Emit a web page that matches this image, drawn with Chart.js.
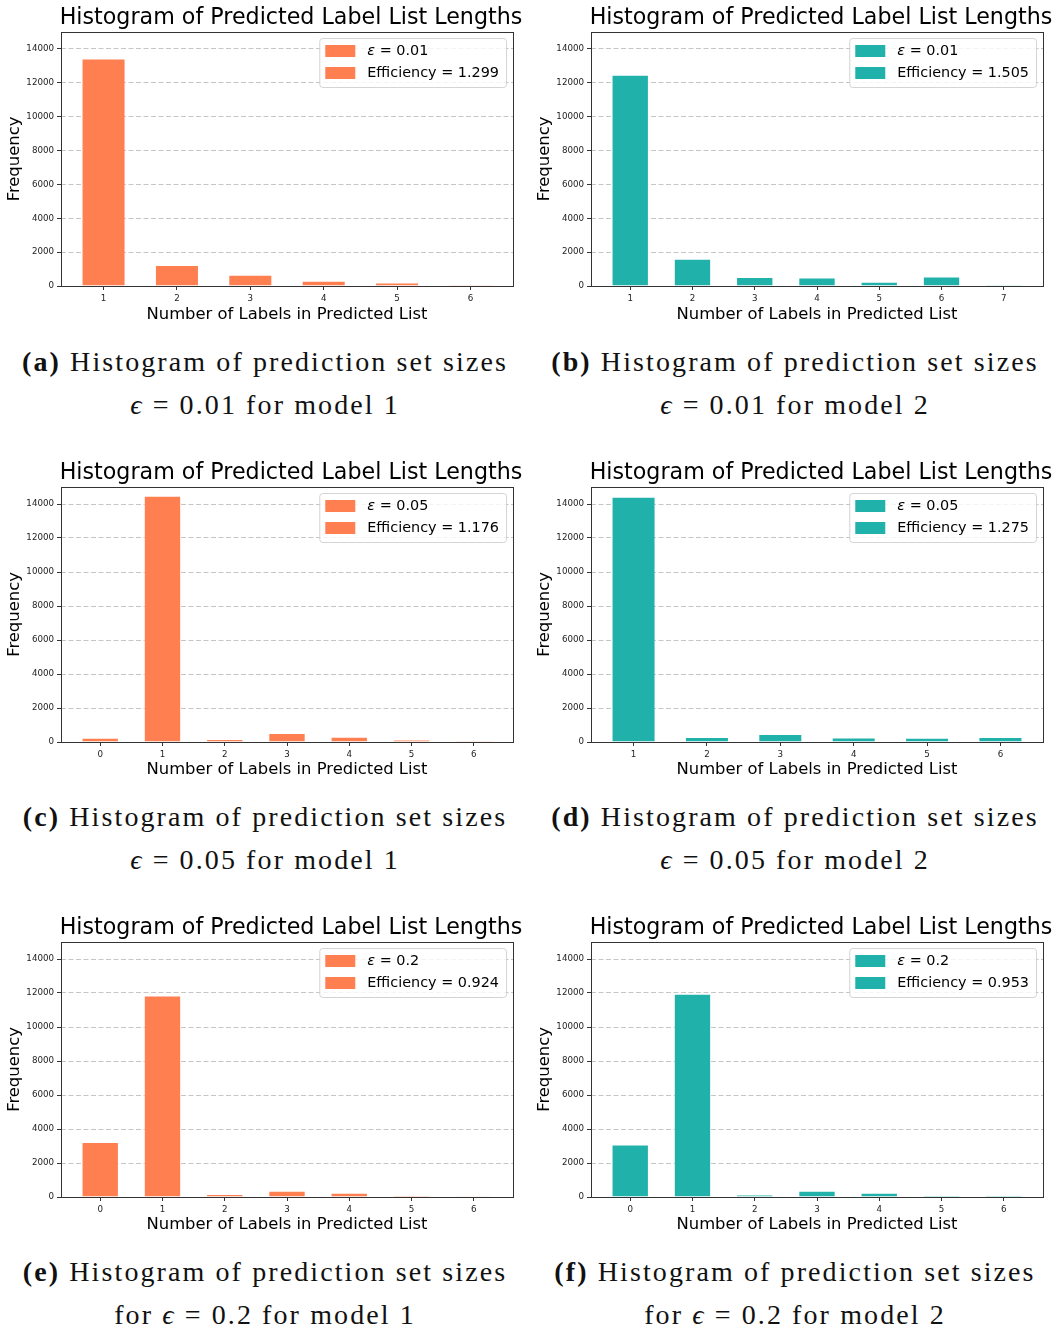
<!DOCTYPE html>
<html>
<head>
<meta charset="utf-8">
<script src="https://cdn.jsdelivr.net/npm/chart.js@4.4.1/dist/chart.umd.min.js"></script>
<style>
  html, body { margin: 0; padding: 0; background: #fff; }
  body { position: relative; width: 1059px; height: 1331px; overflow: hidden; }
  .panel { position: absolute; width: 530px; height: 455px; }
  .panel canvas { position: absolute; left: 0; top: 0; }
  .cap {
    position: absolute; left: 0; top: 340px; width: 530px;
    text-align: center; font-family: "Liberation Serif", "DejaVu Serif", serif;
    font-size: 28px; line-height: 43px; color: #111; letter-spacing: 2.1px;
    white-space: nowrap;
  }
  .cap b { font-weight: bold; }
  .cap i { font-style: italic; }
</style>
</head>
<body>
<div id="root"></div>
<script>
// Prediction-set sizes and their frequencies, one pair of arrays per panel
const sizesA  = [1, 2, 3, 4, 5, 6];
const countsA = [13430, 1240, 665, 310, 210, 70];

const sizesB  = [1, 2, 3, 4, 5, 6, 7];
const countsB = [12480, 1605, 530, 505, 250, 565, 4];

const sizesC  = [0, 1, 2, 3, 4, 5, 6];
const countsC = [255, 14490, 175, 525, 310, 150, 60];

const sizesD  = [1, 2, 3, 4, 5, 6];
const countsD = [14430, 290, 470, 270, 250, 290];

const sizesE  = [0, 1, 2, 3, 4, 5, 6];
const countsE = [3240, 11850, 175, 370, 250, 90, 10];

const sizesF  = [0, 1, 2, 3, 4, 5, 6];
const countsF = [3085, 11950, 135, 370, 250, 80, 80];

// Legend values
const epsilons     = ['0.01', '0.01', '0.05', '0.05', '0.2', '0.2'];
const efficiencies = ['1.299', '1.505', '1.176', '1.275', '0.924', '0.953'];

// Axis ticks shared by all panels
const yTicks = [0, 2000, 4000, 6000, 8000, 10000, 12000, 14000];
const yMax = 15000;

// Caption text
const captionTags  = ['(a)', '(b)', '(c)', '(d)', '(e)', '(f)'];
const captionPre   = ['', '', '', '', 'for ', 'for '];
const captionModel = ['1', '2', '1', '2', '1', '2'];

const CORAL = '#FF7F50';
const TEAL  = '#20B2AA';

const panels = [
  { sizes: sizesA, counts: countsA, color: CORAL, col: 0, row: 0 },
  { sizes: sizesB, counts: countsB, color: TEAL,  col: 1, row: 0 },
  { sizes: sizesC, counts: countsC, color: CORAL, col: 0, row: 1 },
  { sizes: sizesD, counts: countsD, color: TEAL,  col: 1, row: 1 },
  { sizes: sizesE, counts: countsE, color: CORAL, col: 0, row: 2 },
  { sizes: sizesF, counts: countsF, color: TEAL,  col: 1, row: 2 },
];

const SANS = '"DejaVu Sans", sans-serif';

// Axes frame, title and in-plot legend
const decor = {
  id: 'decor',
  afterDraw(chart, args, opts) {
    const { ctx, chartArea: a } = chart;
    ctx.save();
    // frame on all four sides
    ctx.strokeStyle = '#333';
    ctx.lineWidth = 1;
    ctx.setLineDash([]);
    ctx.strokeRect(Math.floor(a.left) + 0.5, Math.floor(a.top) + 0.5,
                   Math.round(a.right - a.left), Math.round(a.bottom - a.top));

    // title
    ctx.fillStyle = '#000';
    ctx.font = '22.2px ' + SANS;
    ctx.textAlign = 'center';
    ctx.textBaseline = 'middle';
    ctx.fillText('Histogram of Predicted Label List Lengths', (a.left + a.right) / 2 + 4, 18);

    // legend
    const fs = 14.4;
    const regular = fs + 'px ' + SANS;
    const italic = 'italic ' + fs + 'px ' + SANS;
    const line1Rest = ' = ' + opts.eps;
    const line2 = 'Efficiency = ' + opts.eff;
    ctx.font = italic;
    const wEps = ctx.measureText('ε').width;
    ctx.font = regular;
    const w1 = wEps + ctx.measureText(line1Rest).width;
    const w2 = ctx.measureText(line2).width;
    const boxW = 6 + 30 + 12 + Math.max(w1, w2) + 7;
    const boxH = 49;
    const boxR = a.right - 7;
    const boxL = boxR - boxW;
    const boxT = a.top + 6;
    ctx.beginPath();
    ctx.roundRect(boxL + 0.5, boxT + 0.5, boxW, boxH, 3);
    ctx.fillStyle = 'rgba(255,255,255,0.8)';
    ctx.fill();
    ctx.strokeStyle = 'rgba(204,204,204,0.85)';
    ctx.stroke();

    const rows = [boxT + 13, boxT + 35];
    rows.forEach(cy => {
      ctx.fillStyle = opts.color;
      ctx.fillRect(boxL + 6, cy - 6, 30, 12);
    });
    ctx.fillStyle = '#000';
    ctx.textAlign = 'left';
    ctx.textBaseline = 'middle';
    const tx = boxL + 6 + 30 + 12;
    ctx.font = italic;
    ctx.fillText('ε', tx, rows[0]);
    ctx.font = regular;
    ctx.fillText(line1Rest, tx + wEps, rows[0]);
    ctx.fillText(line2, tx, rows[1]);
    ctx.restore();
  }
};

const root = document.getElementById('root');

panels.forEach((p, idx) => {
  const div = document.createElement('div');
  div.className = 'panel';
  div.style.left = (p.col * 530) + 'px';
  div.style.top = (p.row * 455) + 'px';
  const canvas = document.createElement('canvas');
  canvas.width = 530;
  canvas.height = 330;
  canvas.style.width = '530px';
  canvas.style.height = '330px';
  div.appendChild(canvas);

  const cap = document.createElement('div');
  cap.className = 'cap';
  cap.innerHTML = '<b>' + captionTags[idx] + '</b> Histogram of prediction set sizes<br>' +
                  captionPre[idx] + '<i>ϵ</i> = ' + epsilons[idx] + ' for model ' + captionModel[idx];
  div.appendChild(cap);
  root.appendChild(div);

  const first = p.sizes[0];
  const last = p.sizes[p.sizes.length - 1];
  const margin = 0.05 * (last - first + 0.6);

  new Chart(canvas, {
    type: 'bar',
    data: {
      datasets: [{
        data: p.sizes.map((s, i) => ({ x: s, y: p.counts[i] })),
        backgroundColor: p.color,
        borderColor: 'rgba(255,255,255,0.35)',
        borderWidth: 1,
        categoryPercentage: 1.0,
        barPercentage: 0.6,
      }]
    },
    options: {
      responsive: false,
      animation: false,
      devicePixelRatio: 1,
      layout: { padding: { top: 32, right: 17, left: 0, bottom: 0 } },
      plugins: {
        legend: { display: false },
        tooltip: { enabled: false },
        title: { display: false },
        decor: { color: p.color, eps: epsilons[idx], eff: efficiencies[idx] },
      },
      scales: {
        x: {
          type: 'linear',
          offset: false,
          min: first - 0.3 - margin,
          max: last + 0.3 + margin,
          afterBuildTicks: s => { s.ticks = p.sizes.map(v => ({ value: v })); },
          afterFit: s => { s.height = p.row === 0 ? 44 : 43; },
          ticks: {
            font: { family: SANS, size: 8.7 },
            color: '#222',
            padding: 4,
            maxRotation: 0,
            callback: v => String(v),
          },
          grid: {
            offset: false,
            drawOnChartArea: false,
            drawTicks: true,
            tickLength: 4,
            tickColor: '#333',
            tickWidth: 1,
            tickBorderDash: [],
          },
          border: { display: false },
          title: {
            display: true,
            text: 'Number of Labels in Predicted List',
            font: { family: SANS, size: 16.4 },
            color: '#000',
            padding: { top: 0, bottom: 5 },
          },
        },
        y: {
          min: 0,
          max: yMax,
          afterBuildTicks: s => { s.ticks = yTicks.map(v => ({ value: v })); },
          afterFit: s => { s.width = 61; },
          ticks: {
            font: { family: SANS, size: 8.7 },
            color: '#222',
            padding: 3,
            callback: v => String(v),
          },
          grid: {
            color: '#c6c6c6',
            lineWidth: 1,
            drawTicks: true,
            tickLength: 4,
            tickColor: '#333',
            tickWidth: 1,
            tickBorderDash: [],
          },
          border: { display: false, dash: [5, 2.5] },
          title: {
            display: true,
            text: 'Frequency',
            font: { family: SANS, size: 16.4 },
            color: '#000',
            padding: { top: 5, bottom: 0 },
          },
        },
      },
    },
    plugins: [decor],
  });
});
</script>
</body>
</html>
